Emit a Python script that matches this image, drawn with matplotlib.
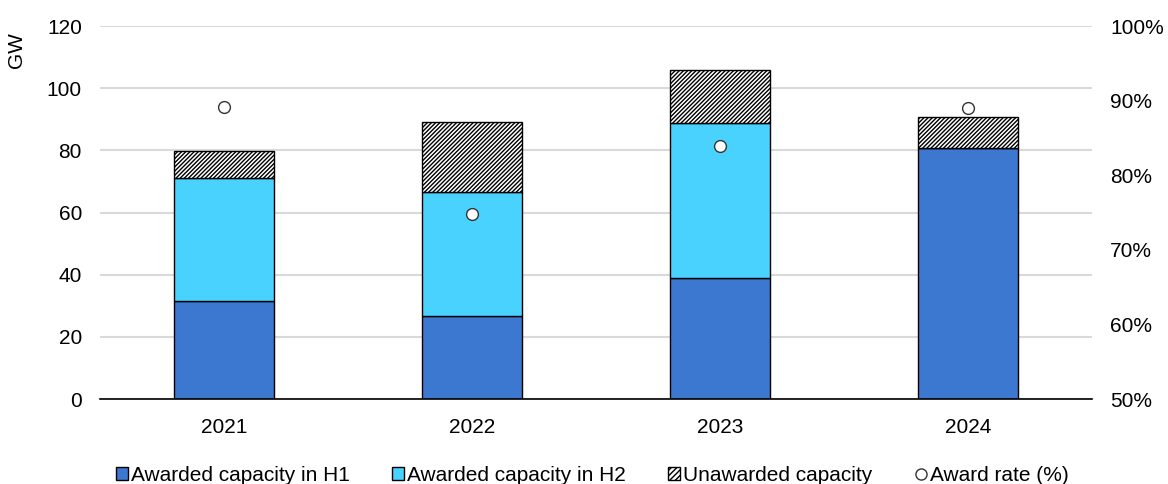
import numpy as np
import matplotlib
matplotlib.use("Agg")
import matplotlib.pyplot as plt
from matplotlib.patches import Patch
from matplotlib.lines import Line2D

plt.rcParams["font.family"] = ["Liberation Sans", "DejaVu Sans"]
plt.rcParams["hatch.linewidth"] = 1.0

years = ["2021", "2022", "2023", "2024"]
h1 = [31.5, 26.7, 39.0, 80.7]
h2 = [39.5, 39.8, 49.8, 0.0]
unawarded = [8.7, 22.6, 17.1, 9.9]
award_rate = [89.1, 74.8, 83.9, 89.0]

c_h1 = "#3D78D0"
c_h2 = "#4AD2FF"
fs = 15

fig = plt.figure(figsize=(11.68, 4.84), dpi=100)
ax = fig.add_axes([0.0856, 0.1756, 0.8494, 0.7706])
x = np.arange(len(years))
w = 0.4

bot2 = np.array(h1)
bot3 = bot2 + np.array(h2)
ax.bar(x, h1, w, color=c_h1, edgecolor="black", linewidth=1, zorder=3)
ax.bar(x, h2, w, bottom=bot2, color=c_h2, edgecolor="black", linewidth=1, zorder=3)
ax.bar(x, unawarded, w, bottom=bot3, color="white", edgecolor="black",
       hatch="////////", linewidth=1, zorder=3)

ax.set_xlim(-0.5, len(years) - 0.5)
ax.set_ylim(0, 120)
ax.set_yticks(range(0, 121, 20))
ax.set_xticks(x)
ax.set_xticklabels(years)
ax.grid(axis="y", color="#d9d9d9", linewidth=1.5, zorder=0)
ax.set_axisbelow(True)
for s in ["top", "right", "left"]:
    ax.spines[s].set_visible(False)
ax.spines["bottom"].set_color("black")
ax.spines["bottom"].set_linewidth(1.2)
ax.spines["bottom"].set_zorder(4)
ax.tick_params(axis="both", length=0, labelsize=fs, colors="black")
ax.tick_params(axis="y", pad=13)
ax.tick_params(axis="x", pad=14)
ax.text(-0.084, 0.985, "GW", transform=ax.transAxes, rotation=90,
        ha="center", va="top", fontsize=fs)

ax2 = ax.twinx()
ax2.set_ylim(50, 100)
ax2.set_yticks(range(50, 101, 10))
ax2.set_yticklabels([f"{v}%" for v in range(50, 101, 10)])
for s in ["top", "right", "left", "bottom"]:
    ax2.spines[s].set_visible(False)
ax2.tick_params(axis="y", length=0, labelsize=fs, pad=13)
ax2.plot(x, award_rate, linestyle="none", marker="o", markersize=8.5,
         markerfacecolor="white", markeredgecolor="#333333", markeredgewidth=1, zorder=5)

handles = [
    Patch(facecolor=c_h1, edgecolor="black", label="Awarded capacity in H1"),
    Patch(facecolor=c_h2, edgecolor="black", label="Awarded capacity in H2"),
    Patch(facecolor="white", edgecolor="black", hatch="//////", label="Unawarded capacity"),
    Line2D([], [], linestyle="none", marker="o", markersize=8, markerfacecolor="white",
           markeredgecolor="#333333", label="Award rate (%)"),
]
fig.legend(handles=handles, loc="lower center", bbox_to_anchor=(0.507, -0.04), ncol=4,
           frameon=False, fontsize=fs, handlelength=0.6, handleheight=0.6,
           handletextpad=0.15, columnspacing=2.0)

fig.savefig("out.png", dpi=100)
